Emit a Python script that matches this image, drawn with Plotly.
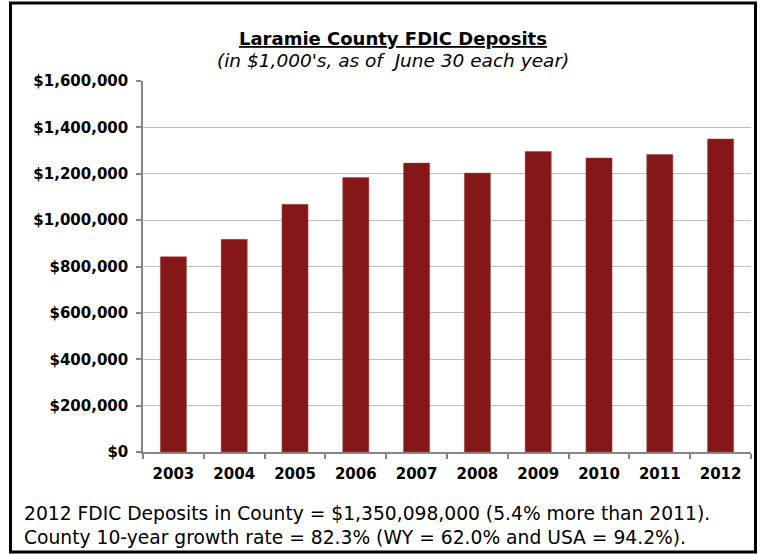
import plotly.graph_objects as go

years = ["2003", "2004", "2005", "2006", "2007", "2008", "2009", "2010", "2011", "2012"]
deposits = [842000, 917000, 1068000, 1184000, 1246000, 1203000, 1296000, 1268000, 1283000, 1350098]
y_ticks = [0, 200000, 400000, 600000, 800000, 1000000, 1200000, 1400000, 1600000]
y_tick_labels = ["$0", "$200,000", "$400,000", "$600,000", "$800,000",
                 "$1,000,000", "$1,200,000", "$1,400,000", "$1,600,000"]

title = "<b><u>Laramie County FDIC Deposits</u></b>"
subtitle = "<i>(in $1,000's, as of  June 30 each year)</i>"
note1 = "2012 FDIC Deposits in County = $1,350,098,000 (5.4% more than 2011)."
note2 = "County 10-year growth rate = 82.3% (WY = 62.0% and USA = 94.2%)."

FONT = "DejaVu Sans, Arial, sans-serif"
W, H = 761, 554
L, R, T, B = 143, 10, 81, 102
pw, ph = W - L - R, H - T - B

def px(x):
    return (x - L) / pw

def py(y):
    return (H - B - y) / ph

fig = go.Figure(go.Bar(
    x=years, y=deposits,
    marker=dict(color="#861719", line=dict(color="#A8484A", width=0.5)),
    hoverinfo="skip",
))

fig.update_layout(
    width=W, height=H,
    margin=dict(l=L, r=R, t=T, b=B),
    paper_bgcolor="white", plot_bgcolor="white",
    bargap=0.57,
    showlegend=False,
    font=dict(family=FONT, color="black"),
    xaxis=dict(
        type="category",
        tickvals=years, ticktext=[f"<b>{y}</b>" for y in years],
        showline=True, linecolor="#868686", linewidth=1.5,
        ticks="outside", tickson="boundaries", ticklen=5, tickcolor="#868686", tickwidth=1.5,
        tickfont=dict(family=FONT, size=15, color="black"),
        ticklabelstandoff=7,
        showgrid=False,
    ),
    yaxis=dict(
        range=[0, 1600000],
        tickvals=y_ticks, ticktext=[f"<b>{t}</b>" for t in y_tick_labels],
        showline=True, linecolor="#868686", linewidth=1.5,
        ticks="outside", ticklen=5, tickcolor="#868686", tickwidth=1.5,
        tickfont=dict(family=FONT, size=15, color="black"),
        ticklabelstandoff=5,
        showgrid=True, gridcolor="#BEBEBE", gridwidth=1,
        zeroline=False,
    ),
    shapes=[dict(
        type="rect", xref="paper", yref="paper",
        x0=px(10.5), x1=px(755.5), y0=py(552), y1=py(3),
        line=dict(color="black", width=3), fillcolor="rgba(0,0,0,0)",
    )],
    annotations=[
        dict(text=title, xref="paper", yref="paper", x=px(393), y=py(38),
             xanchor="center", yanchor="middle", showarrow=False,
             font=dict(family=FONT, size=18, color="black")),
        dict(text=subtitle, xref="paper", yref="paper", x=px(393), y=py(60),
             xanchor="center", yanchor="middle", showarrow=False,
             font=dict(family=FONT, size=18.5, color="black")),
        dict(text=note1, xref="paper", yref="paper", x=px(22), y=py(513),
             xanchor="left", yanchor="middle", showarrow=False,
             font=dict(family=FONT, size=18.7, color="black")),
        dict(text=note2, xref="paper", yref="paper", x=px(22), y=py(537),
             xanchor="left", yanchor="middle", showarrow=False,
             font=dict(family=FONT, size=18.7, color="black")),
    ],
)

fig.write_html("out.html", config={"displayModeBar": False},
               post_script="document.body.style.margin='0';")
